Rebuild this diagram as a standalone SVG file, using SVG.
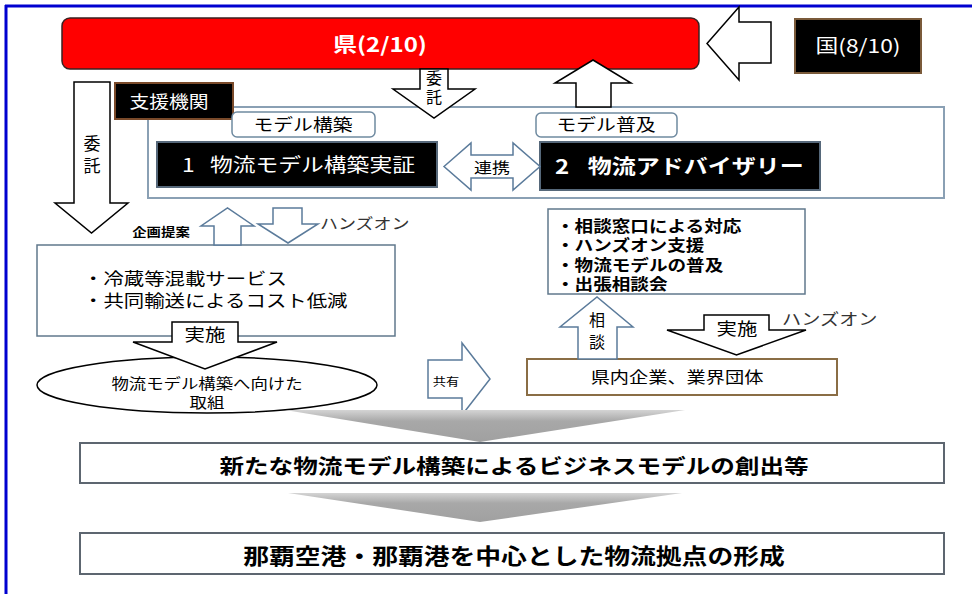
<svg xmlns="http://www.w3.org/2000/svg" width="972" height="594" viewBox="0 0 972 594">
<style>
text{font-family:"Noto Sans CJK JP","Noto Sans",sans-serif;fill:#000}
.w{fill:#fff}
.b{font-weight:bold}
.c{text-anchor:middle}
.g3{fill:#333}
.ak{fill:#fff;stroke:#000;stroke-width:1.5;stroke-linejoin:miter}
.ab{fill:#fff;stroke:#5b7b9b;stroke-width:1.5;stroke-linejoin:miter}
.box{fill:#fff;stroke:#60788c;stroke-width:1.5}
.blk{fill:#000;stroke:#56687a;stroke-width:2}
.lbl{fill:#fff;stroke:#6f8aa0;stroke-width:1.5}
.bot{fill:#fff;stroke:#5d6670;stroke-width:2}
.wedge{fill:url(#g)}
</style>
<defs>
<linearGradient id="g" x1="0" y1="0" x2="0" y2="1">
<stop offset="0" stop-color="#d4d4d4"/>
<stop offset="0.35" stop-color="#a8a8a8"/>
<stop offset="1" stop-color="#a0a0a0"/>
</linearGradient>
</defs>
<rect x="0" y="0" width="972" height="594" fill="#fff"/>
<g id="frame">
<line x1="5" y1="6" x2="972" y2="6" stroke="#0000d0" stroke-width="3"/>
<line x1="6" y1="5" x2="6" y2="594" stroke="#0000d0" stroke-width="3"/>
</g>

<g id="ken">
<rect x="62" y="18" width="637" height="51" rx="8" fill="#ff0000" stroke="#3a2020" stroke-width="1.5"/>
<text transform="translate(380,52) scale(1.2,1)" class="w b c" font-size="20">県(2/10)</text>
</g>
<g id="kuni">
<rect x="795" y="19" width="126" height="54" fill="#000" stroke="#7a5a3a" stroke-width="2"/>
<text transform="translate(858,53) scale(1.2,1)" class="w c" font-size="19">国(8/10)</text>
</g>

<g id="panel">
<rect x="148" y="107" width="796" height="91" fill="none" stroke="#8aa0b4" stroke-width="2"/>
</g>
<g id="shien">
<rect x="115" y="83" width="118" height="36" fill="#000" stroke="#7a4a2a" stroke-width="2"/>
<text transform="translate(169,107.5) scale(1.2,1)" class="w c" font-size="16.5">支援機関</text>
</g>
<g id="label-kochiku">
<rect x="232" y="112" width="143" height="25" rx="5" class="lbl"/>
<text transform="translate(303,131) scale(1.2,1)" class="c" font-size="16.5">モデル構築</text>
</g>
<g id="label-fukyu">
<rect x="536" y="113" width="141" height="24" rx="5" class="lbl"/>
<text transform="translate(606,131) scale(1.2,1)" class="c" font-size="16.5">モデル普及</text>
</g>
<g id="node1">
<rect x="157" y="142" width="280" height="45" class="blk"/>
<text transform="translate(182,172) scale(1.2,1)" class="w" font-size="19">1<tspan dx="8.5"> 物流モデル構築実証</tspan></text>
</g>
<g id="node2">
<rect x="540" y="142" width="280" height="48" class="blk"/>
<text transform="translate(555,173.5) scale(1.2,1)" class="w b" font-size="20">2<tspan dx="11"> 物流アドバイザリー</tspan></text>
</g>

<g id="leftbox">
<rect x="37" y="245" width="358" height="91" class="box"/>
<text transform="translate(83,284.5) scale(1.2,1)" font-size="17">・冷蔵等混載サービス</text>
<text transform="translate(83,306.5) scale(1.2,1)" font-size="17">・共同輸送によるコスト低減</text>
</g>
<g id="rightbox">
<rect x="548" y="209" width="257" height="85" class="box"/>
<text transform="translate(556,231.5) scale(1.2,1)" class="b" font-size="15.5">・相談窓口による対応</text>
<text transform="translate(556,251) scale(1.2,1)" class="b" font-size="15.5">・ハンズオン支援</text>
<text transform="translate(556,270.5) scale(1.2,1)" class="b" font-size="15.5">・物流モデルの普及</text>
<text transform="translate(556,290) scale(1.2,1)" class="b" font-size="15.5">・出張相談会</text>
</g>
<g id="ellipse">
<ellipse cx="207" cy="385" rx="170" ry="28" fill="#fff" stroke="#000" stroke-width="1.5"/>
<text transform="translate(207,388.5) scale(1.2,1)" class="c" font-size="14.5">物流モデル構築へ向けた</text>
<text transform="translate(207,407.5) scale(1.2,1)" class="c" font-size="14.5">取組</text>
</g>
<g id="kennai">
<rect x="527" y="359" width="310" height="36" fill="#fff" stroke="#8a6d45" stroke-width="2"/>
<text transform="translate(677,383) scale(1.2,1)" class="c" font-size="16">県内企業、業界団体</text>
</g>
<g id="result1">
<rect x="80" y="443" width="864" height="40" class="bot"/>
<text transform="translate(514,473.5) scale(1.2,1)" class="b c" font-size="20.5">新たな物流モデル構築によるビジネスモデルの創出等</text>
</g>
<g id="result2">
<rect x="80" y="533" width="864" height="41" class="bot"/>
<text transform="translate(514,563.5) scale(1.2,1)" class="b c" font-size="21.5">那覇空港・那覇港を中心とした物流拠点の形成</text>
</g>

<g id="connectors">
<path class="ak" d="M771,22 V63 H739 V80 L707,43.5 L739,7 V22 Z"/>
<path class="ak" d="M420,69 H448 V89 H475 L434,118 L393,89 H420 Z"/>
<text x="434" y="84" class="c" font-size="16">委</text>
<text x="434" y="103" class="c" font-size="16">託</text>
<path class="ak" d="M576,107 V83 H555 L593,60 L631,83 H611 V107 Z"/>
<path class="ak" d="M74,82 H110 V203 H128 L91.5,233 L55,203 H74 Z"/>
<text x="92" y="149.5" class="c" font-size="17">委</text>
<text x="92" y="171.5" class="c" font-size="17">託</text>
<path class="ab" d="M444,166.5 L471,143 V155 H513 V143 L540,166.5 L513,190 V178 H471 V190 Z"/>
<text transform="translate(492,172.5) scale(1.2,1)" class="c" font-size="15">連携</text>
<path class="ab" d="M214,245 V226 H201 L227.5,208 L254,226 H241 V245 Z"/>
<path class="ab" d="M273,208 H302 V224 H318 L288,243 L258,224 H273 Z"/>
<text transform="translate(161,236.5) scale(1.2,1)" class="b c" font-size="12">企画提案</text>
<text transform="translate(320,229) scale(1.2,1)" class="g3" font-size="15">ハンズオン</text>
<path class="ak" d="M172,322 H238 V342 H277 L205,369 L133,342 H172 Z"/>
<text transform="translate(205,340.5) scale(1.2,1)" class="c" font-size="17">実施</text>
<path class="ab" d="M428,360 H462 V343 L490,379 L462,415 V398 H428 Z"/>
<text transform="translate(446,386) scale(1.2,1)" class="c" font-size="11">共有</text>
<path class="ab" d="M578,359 V327 H560 L597,297 L633,327 H617 V359 Z"/>
<text x="597" y="326" class="c" font-size="16">相</text>
<text x="597" y="348" class="c" font-size="16">談</text>
<path class="ak" d="M704,315 H769 V330 H806 L736.5,355 L667,330 H704 Z"/>
<text transform="translate(737,334.5) scale(1.2,1)" class="c" font-size="17">実施</text>
<text transform="translate(782,324.5) scale(1.2,1)" class="g3" font-size="16">ハンズオン</text>
<polygon class="wedge" points="285,410 685,410 480,442"/>
<polygon class="wedge" points="288,493 682,493 480,522"/>
</g>
</svg>
